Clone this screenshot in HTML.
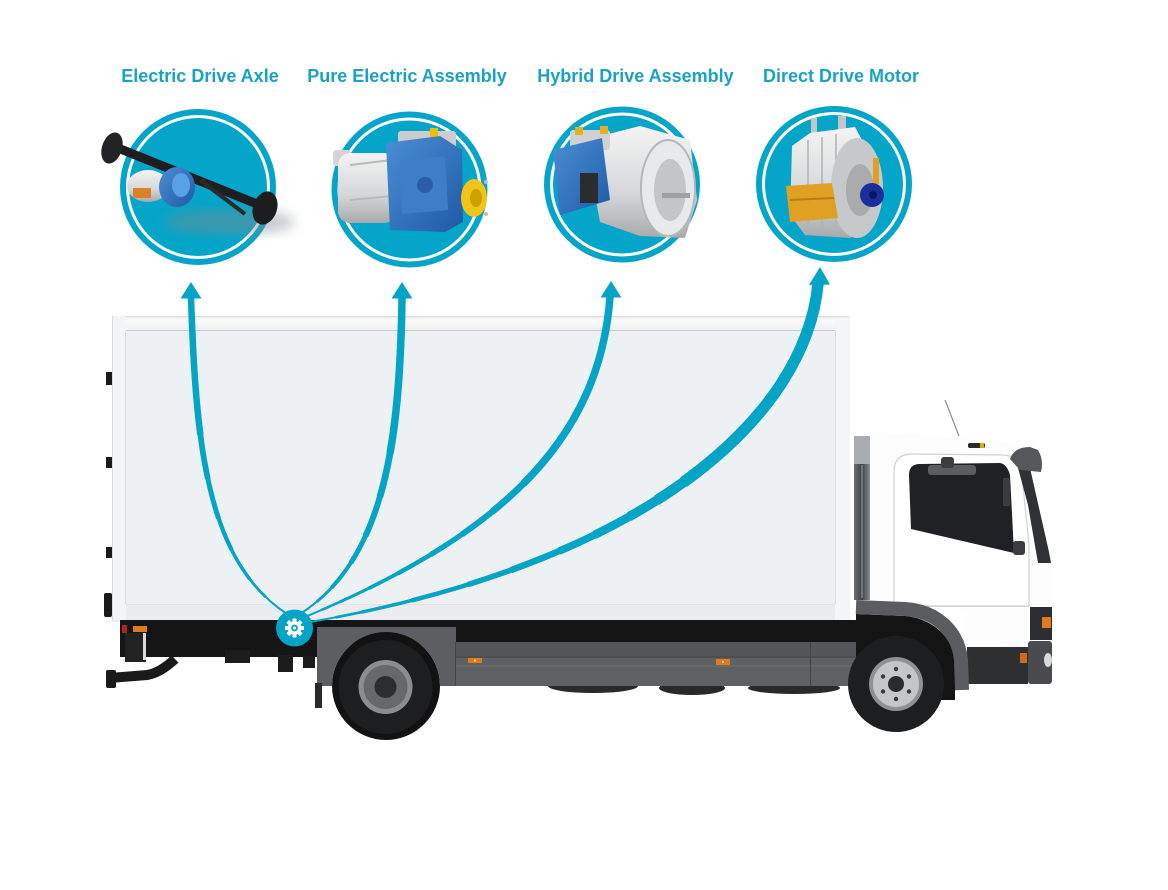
<!DOCTYPE html>
<html><head><meta charset="utf-8">
<style>
html,body{margin:0;padding:0;background:#fff;}
svg{display:block;}
.lbl{font-family:"Liberation Sans",Arial,sans-serif;font-weight:bold;font-size:18px;fill:#19a2c5;}
</style></head><body>
<svg width="1168" height="890" viewBox="0 0 1168 890" xmlns="http://www.w3.org/2000/svg" xmlns:xlink="http://www.w3.org/1999/xlink">
<defs>
  <linearGradient id="silv" x1="0" y1="0" x2="0" y2="1">
    <stop offset="0" stop-color="#f4f4f4"/><stop offset="0.6" stop-color="#d6d7d9"/><stop offset="1" stop-color="#a7a9ab"/>
  </linearGradient>
  <linearGradient id="blu" x1="0" y1="0" x2="1" y2="1">
    <stop offset="0" stop-color="#4b8fd6"/><stop offset="1" stop-color="#1f5aa6"/>
  </linearGradient>
  <linearGradient id="rail" x1="0" y1="0" x2="0" y2="1">
    <stop offset="0" stop-color="#e9eaeb"/><stop offset="0.3" stop-color="#fbfbfb"/><stop offset="1" stop-color="#eeeff0"/>
  </linearGradient>
  <linearGradient id="cabback" x1="0" y1="0" x2="1" y2="0">
    <stop offset="0" stop-color="#6d7175"/><stop offset="0.5" stop-color="#3f4246"/><stop offset="1" stop-color="#8a8e92"/>
  </linearGradient>
  <filter id="blur6"><feGaussianBlur stdDeviation="6"/></filter>
  <path id="c1" d="M287,614 C205,560 196,440 191,298" pathLength="100"/>
  <path id="c2" d="M300,614 C385,560 400,440 402,298" pathLength="100"/>
  <path id="c3" d="M305,617 C515,530 600,430 610,297" pathLength="100"/>
  <path id="c4" d="M310,622 C640,565 805,420 818,284" pathLength="100"/>
</defs>

<!-- Labels -->
<text class="lbl" x="200" y="82" text-anchor="middle">Electric Drive Axle</text>
<text class="lbl" x="407" y="82" text-anchor="middle">Pure Electric Assembly</text>
<text class="lbl" x="635.5" y="82" text-anchor="middle">Hybrid Drive Assembly</text>
<text class="lbl" x="841" y="82" text-anchor="middle">Direct Drive Motor</text>

<!-- Circles -->
<g fill="#04a5c8">
  <circle cx="198" cy="187" r="78"/>
  <circle cx="409.5" cy="189.5" r="78"/>
  <circle cx="622" cy="184.5" r="78"/>
  <circle cx="834" cy="184" r="78"/>
</g>
<g fill="#ffffff">
  <circle cx="198" cy="187" r="72"/>
  <circle cx="409.5" cy="189.5" r="72"/>
  <circle cx="622" cy="184.5" r="72"/>
  <circle cx="834" cy="184" r="72"/>
</g>
<g fill="#04a5c8">
  <circle cx="198" cy="187" r="69"/>
  <circle cx="409.5" cy="189.5" r="69"/>
  <circle cx="622" cy="184.5" r="69"/>
  <circle cx="834" cy="184" r="69"/>
</g>

<!-- Product 1: electric drive axle -->
<ellipse cx="230" cy="222" rx="65" ry="13" fill="#7f8a90" fill-opacity="0.45" filter="url(#blur6)"/>
<line x1="118" y1="148" x2="262" y2="206" stroke="#1e1e20" stroke-width="9" stroke-linecap="round"/>
<line x1="200" y1="180" x2="245" y2="214" stroke="#2a2a2c" stroke-width="4"/>
<ellipse cx="112" cy="148" rx="10" ry="16" transform="rotate(18 112 148)" fill="#232325"/>
<ellipse cx="265" cy="208" rx="12" ry="17" transform="rotate(18 265 208)" fill="#1d1d1f"/>
<ellipse cx="148" cy="186" rx="21" ry="16" fill="url(#silv)"/>
<rect x="133" y="188" width="18" height="10" fill="#d9822b"/>
<ellipse cx="177" cy="187" rx="18" ry="20" fill="url(#blu)"/>
<ellipse cx="181" cy="185" rx="9" ry="12" fill="#5aa0e4"/>

<!-- Product 2: pure electric assembly -->
<rect x="333" y="150" width="18" height="16" rx="3" fill="#d3d4d6"/>
<rect x="338" y="153" width="58" height="70" rx="12" fill="url(#silv)"/>
<path d="M350,165 L392,160 M350,200 L392,196" stroke="#b8babc" stroke-width="2"/>
<rect x="398" y="131" width="58" height="18" rx="3" fill="#cbcdcf"/>
<rect x="430" y="128" width="8" height="10" fill="#e8c200"/>
<polygon points="386,143 440,136 462,150 463,222 445,232 390,230" fill="url(#blu)"/>
<path d="M400,160 L445,156 L448,210 L402,214 Z" fill="#3e7ec8"/>
<circle cx="425" cy="185" r="8" fill="#2a5ea8"/>
<ellipse cx="474" cy="198" rx="13" ry="19" fill="#f0c419"/>
<ellipse cx="476" cy="198" rx="6" ry="9" fill="#c9a100"/>
<circle cx="486" cy="182" r="2" fill="#bbb"/><circle cx="486" cy="214" r="2" fill="#bbb"/>

<!-- Product 3: hybrid drive assembly -->
<polygon points="585,140 640,126 690,140 697,200 685,238 640,236 600,222" fill="url(#silv)"/>
<rect x="570" y="130" width="40" height="20" rx="3" fill="#cfd1d3"/>
<rect x="575" y="127" width="8" height="8" fill="#e0b020"/>
<rect x="600" y="126" width="8" height="8" fill="#e0b020"/>
<polygon points="553,150 602,138 610,200 560,215" fill="url(#blu)"/>
<rect x="580" y="173" width="18" height="30" fill="#2b2c2e"/>
<ellipse cx="668" cy="188" rx="27" ry="48" fill="#e8e9ea" stroke="#b5b7b9" stroke-width="2"/>
<ellipse cx="670" cy="190" rx="16" ry="31" fill="#c3c5c7"/>
<rect x="662" y="193" width="28" height="5" fill="#9ea0a2"/>

<!-- Product 4: direct drive motor -->
<rect x="811" y="118" width="6" height="18" fill="#c3c5c7"/>
<rect x="838" y="116" width="8" height="18" fill="#c3c5c7"/>
<polygon points="792,146 810,133 855,127 862,140 868,228 850,238 805,235 790,215" fill="url(#silv)"/>
<path d="M808,140 L808,230 M822,137 L822,232 M836,134 L836,234" stroke="#b0b2b4" stroke-width="1.5"/>
<ellipse cx="857" cy="188" rx="26" ry="50" fill="#c6c8ca"/>
<ellipse cx="860" cy="190" rx="14" ry="26" fill="#a9abad"/>
<polygon points="786,186 832,183 838,218 790,222" fill="#e0a024"/>
<line x1="790" y1="200" x2="834" y2="198" stroke="#b97d12" stroke-width="2"/>
<rect x="873" y="158" width="6" height="26" fill="#e0a024"/>
<circle cx="872" cy="195" r="12" fill="#1c2d9c"/>
<circle cx="873" cy="195" r="4" fill="#0d1760"/>

<!-- ================= TRUCK ================= -->
<rect x="112" y="316" width="738" height="306" fill="#edf1f4"/>
<rect x="114" y="316" width="736" height="15" fill="url(#rail)"/>
<line x1="126" y1="330.5" x2="836" y2="330.5" stroke="#c8cacc" stroke-width="1"/>
<line x1="114" y1="316.5" x2="848" y2="316.5" stroke="#d9dbdc" stroke-width="1"/>
<rect x="112" y="316" width="14" height="304" fill="#f3f4f5"/>
<line x1="125.5" y1="331" x2="125.5" y2="604" stroke="#dcdee0" stroke-width="1"/>
<line x1="112.5" y1="316" x2="112.5" y2="620" stroke="#d8dadb" stroke-width="1"/>
<rect x="835" y="320" width="15" height="302" fill="#f4f5f6" rx="2"/>
<line x1="835.5" y1="331" x2="835.5" y2="604" stroke="#dcdee0" stroke-width="1"/>
<rect x="126" y="604" width="709" height="17" fill="#eaeced"/>
<line x1="126" y1="604.5" x2="835" y2="604.5" stroke="#e2e5e7" stroke-width="1"/>
<g fill="#1a1a1a">
  <rect x="106" y="372" width="6" height="13"/>
  <rect x="106" y="457" width="6" height="11"/>
  <rect x="106" y="547" width="6" height="11"/>
  <rect x="104" y="593" width="8" height="24" rx="2"/>
</g>

<!-- chassis -->
<rect x="120" y="620" width="740" height="24" fill="#151515"/>
<rect x="120" y="640" width="200" height="17" fill="#151515"/>
<rect x="122" y="625" width="5" height="8" fill="#b0261c"/>
<rect x="133" y="626" width="14" height="6" fill="#e07a1c"/>
<rect x="125" y="633" width="21" height="29" fill="#222"/>
<rect x="143" y="633" width="3" height="27" fill="#d9d9d9"/>
<path d="M110,678 L147,675 Q160,673 175,659" stroke="#1a1a1a" stroke-width="10" fill="none"/>
<rect x="106" y="670" width="10" height="18" rx="2" fill="#1a1a1a"/>
<rect x="225" y="650" width="25" height="13" fill="#1c1c1c"/>
<rect x="278" y="655" width="15" height="17" fill="#1c1c1c"/>
<rect x="303" y="656" width="12" height="12" fill="#1c1c1c"/>

<!-- rear wheel -->
<circle cx="386" cy="686" r="54" fill="#121212"/>
<path d="M317,627 L456,627 L456,686 L440,686 A54,54 0 0 0 332,686 L317,686 Z" fill="#5d5e61"/>
<rect x="315" y="683" width="7" height="25" fill="#2a2a2a"/>
<circle cx="385.5" cy="687" r="47" fill="#1d1e20"/>
<circle cx="385.5" cy="687" r="27" fill="#8b8d8f"/>
<circle cx="385.5" cy="687" r="22" fill="#66686b"/>
<circle cx="385.5" cy="687" r="11" fill="#2c2d30"/>

<!-- side skirt -->
<g fill="#2a2a2a">
  <ellipse cx="593" cy="686" rx="45" ry="7"/>
  <ellipse cx="692" cy="688" rx="33" ry="7"/>
  <ellipse cx="794" cy="688" rx="46" ry="6"/>
</g>
<rect x="455" y="642" width="405" height="44" fill="#5f6063"/>
<rect x="455" y="642" width="405" height="14" fill="#55565a"/>
<line x1="455" y1="657" x2="860" y2="657" stroke="#48494c" stroke-width="1.5"/>
<line x1="455" y1="666" x2="860" y2="666" stroke="#6e6f72" stroke-width="1"/>
<line x1="455.5" y1="642" x2="455.5" y2="686" stroke="#444" stroke-width="1"/>
<line x1="810.5" y1="642" x2="810.5" y2="686" stroke="#444" stroke-width="1"/>
<rect x="468" y="658" width="14" height="5" fill="#e07a1c"/>
<rect x="474" y="659.5" width="2" height="2" fill="#ffe070"/>
<rect x="716" y="659" width="14" height="6" fill="#e07a1c"/>
<rect x="722" y="661" width="2" height="2" fill="#ffe070"/>

<!-- cab -->
<line x1="945" y1="400" x2="959" y2="436" stroke="#8a8c8e" stroke-width="1.2"/>
<path d="M853,438 L860,431 L1005,441 Q1017,444 1022,455 L1046,545 L1052,565 L1052,645 L968,648 L965,612 L935,600 L853,600 Z" fill="#fdfdfd"/>
<rect x="854" y="436" width="16" height="164" fill="url(#cabback)"/>
<rect x="854" y="436" width="16" height="28" fill="#a9adb1"/>
<line x1="862" y1="465" x2="862" y2="598" stroke="#9ea2a6" stroke-width="1"/>
<path d="M894,472 Q894,454 912,454 L1004,455 Q1016,456 1021,466 L1029,545 L1029,606 L894,606 Z" fill="#ffffff" stroke="#cfd1d3" stroke-width="1.2"/>
<path d="M909,475 Q909,464 920,464 L1000,463 Q1007,464 1010,475 L1014,553 L911,529 Z" fill="#1f2124"/>
<rect x="928" y="465" width="48" height="10" rx="3" fill="#5a5c5f"/>
<rect x="941" y="457" width="13" height="11" rx="3" fill="#3a3c3f"/>
<rect x="1003" y="478" width="7" height="28" fill="#3a3c3f"/>
<rect x="1013" y="541" width="12" height="14" rx="3" fill="#3a3c40"/>
<rect x="968" y="443" width="17" height="5" rx="2" fill="#2a2a2a"/>
<rect x="980" y="443" width="4" height="5" fill="#d4b000"/>
<path d="M1018,468 L1030,468 L1049,552 L1051,563 L1038,563 L1028,505 Z" fill="#2f3134"/>
<path d="M1010,459 Q1014,447 1030,447 L1038,450 Q1044,460 1041,472 L1020,470 Z" fill="#55575a"/>
<rect x="1030" y="607" width="22" height="33" fill="#2d2e31"/>
<rect x="1042" y="617" width="9" height="11" fill="#e07a1c"/>
<rect x="1028" y="641" width="24" height="43" rx="3" fill="#4a4b4e"/>
<ellipse cx="1048" cy="660" rx="4" ry="7" fill="#d8d9da"/>
<rect x="967" y="647" width="61" height="37" fill="#2e2f31"/>
<rect x="1020" y="653" width="7" height="10" fill="#d06a1a"/>
<line x1="894" y1="606.5" x2="1029" y2="606.5" stroke="#d0d2d4" stroke-width="1"/>
<path d="M856,614 L905,616 C930,618 952,635 955,660 L955,700 L856,700 Z" fill="#141414"/>
<path d="M856,607 L905,609 C935,611 958,630 961,660 L962,690" stroke="#5b5c5f" stroke-width="14" fill="none"/>
<circle cx="896" cy="684" r="48" fill="#1d1e20"/>
<circle cx="896" cy="684" r="27" fill="#8e9092"/>
<circle cx="896" cy="684" r="23" fill="#c4c6c8"/>
<g fill="#3a3b3d">
  <circle cx="896" cy="669" r="2.2"/><circle cx="909" cy="676.5" r="2.2"/><circle cx="909" cy="691.5" r="2.2"/>
  <circle cx="896" cy="699" r="2.2"/><circle cx="883" cy="691.5" r="2.2"/><circle cx="883" cy="676.5" r="2.2"/>
</g>
<circle cx="896" cy="684" r="8" fill="#2a2b2d"/>

<!-- ================= CONNECTORS ================= -->
<g fill="none" stroke="#04a4c7" stroke-linecap="butt">
  <use xlink:href="#c1" href="#c1" stroke-width="2"/>
  <use xlink:href="#c1" href="#c1" stroke-width="2.75" stroke-dasharray="0 8 100"/>
  <use xlink:href="#c1" href="#c1" stroke-width="3.5" stroke-dasharray="0 15 100"/>
  <use xlink:href="#c1" href="#c1" stroke-width="4.25" stroke-dasharray="0 25 100"/>
  <use xlink:href="#c1" href="#c1" stroke-width="5" stroke-dasharray="0 35 100"/>
  <use xlink:href="#c1" href="#c1" stroke-width="5.75" stroke-dasharray="0 47 100"/>
  <use xlink:href="#c1" href="#c1" stroke-width="6.5" stroke-dasharray="0 60 100"/>

  <use xlink:href="#c2" href="#c2" stroke-width="2"/>
  <use xlink:href="#c2" href="#c2" stroke-width="3" stroke-dasharray="0 6 100"/>
  <use xlink:href="#c2" href="#c2" stroke-width="4" stroke-dasharray="0 12 100"/>
  <use xlink:href="#c2" href="#c2" stroke-width="5" stroke-dasharray="0 21 100"/>
  <use xlink:href="#c2" href="#c2" stroke-width="6" stroke-dasharray="0 30 100"/>
  <use xlink:href="#c2" href="#c2" stroke-width="6.75" stroke-dasharray="0 42 100"/>
  <use xlink:href="#c2" href="#c2" stroke-width="7.5" stroke-dasharray="0 55 100"/>

  <use xlink:href="#c3" href="#c3" stroke-width="2"/>
  <use xlink:href="#c3" href="#c3" stroke-width="2.5" stroke-dasharray="0 4 100"/>
  <use xlink:href="#c3" href="#c3" stroke-width="3" stroke-dasharray="0 8 100"/>
  <use xlink:href="#c3" href="#c3" stroke-width="3.75" stroke-dasharray="0 15 100"/>
  <use xlink:href="#c3" href="#c3" stroke-width="4.5" stroke-dasharray="0 22 100"/>
  <use xlink:href="#c3" href="#c3" stroke-width="5.25" stroke-dasharray="0 30 100"/>
  <use xlink:href="#c3" href="#c3" stroke-width="6" stroke-dasharray="0 38 100"/>
  <use xlink:href="#c3" href="#c3" stroke-width="6.75" stroke-dasharray="0 46 100"/>
  <use xlink:href="#c3" href="#c3" stroke-width="7.5" stroke-dasharray="0 55 100"/>

  <use xlink:href="#c4" href="#c4" stroke-width="2"/>
  <use xlink:href="#c4" href="#c4" stroke-width="2.75" stroke-dasharray="0 4 100"/>
  <use xlink:href="#c4" href="#c4" stroke-width="3.5" stroke-dasharray="0 8 100"/>
  <use xlink:href="#c4" href="#c4" stroke-width="4.5" stroke-dasharray="0 16 100"/>
  <use xlink:href="#c4" href="#c4" stroke-width="5.5" stroke-dasharray="0 25 100"/>
  <use xlink:href="#c4" href="#c4" stroke-width="6.5" stroke-dasharray="0 32 100"/>
  <use xlink:href="#c4" href="#c4" stroke-width="7.5" stroke-dasharray="0 40 100"/>
  <use xlink:href="#c4" href="#c4" stroke-width="8.5" stroke-dasharray="0 46 100"/>
  <use xlink:href="#c4" href="#c4" stroke-width="9.5" stroke-dasharray="0 52 100"/>
  <use xlink:href="#c4" href="#c4" stroke-width="10.5" stroke-dasharray="0 57 100"/>
  <use xlink:href="#c4" href="#c4" stroke-width="11.5" stroke-dasharray="0 62 30"/>
</g>
<g fill="#04a4c7">
  <polygon points="191,282 201.5,298.5 180.5,298.5"/>
  <polygon points="402,282 412.5,298.5 391.5,298.5"/>
  <polygon points="611,281 621.5,297.5 600.5,297.5"/>
  <polygon points="820,267 830,284.5 809,285"/>
</g>

<!-- gear node -->
<circle cx="294.5" cy="628" r="18.5" fill="#04a4c7"/>
<g transform="translate(294.5,628)" fill="#ffffff">
  <circle r="6.8"/>
  <rect x="-2" y="-9.5" width="4" height="4"/>
  <rect x="-2" y="-9.5" width="4" height="4" transform="rotate(45)"/>
  <rect x="-2" y="-9.5" width="4" height="4" transform="rotate(90)"/>
  <rect x="-2" y="-9.5" width="4" height="4" transform="rotate(135)"/>
  <rect x="-2" y="-9.5" width="4" height="4" transform="rotate(180)"/>
  <rect x="-2" y="-9.5" width="4" height="4" transform="rotate(225)"/>
  <rect x="-2" y="-9.5" width="4" height="4" transform="rotate(270)"/>
  <rect x="-2" y="-9.5" width="4" height="4" transform="rotate(315)"/>
  <circle r="3.4" fill="#04a4c7"/>
  <circle r="1.5"/>
</g>
</svg>
</body></html>
